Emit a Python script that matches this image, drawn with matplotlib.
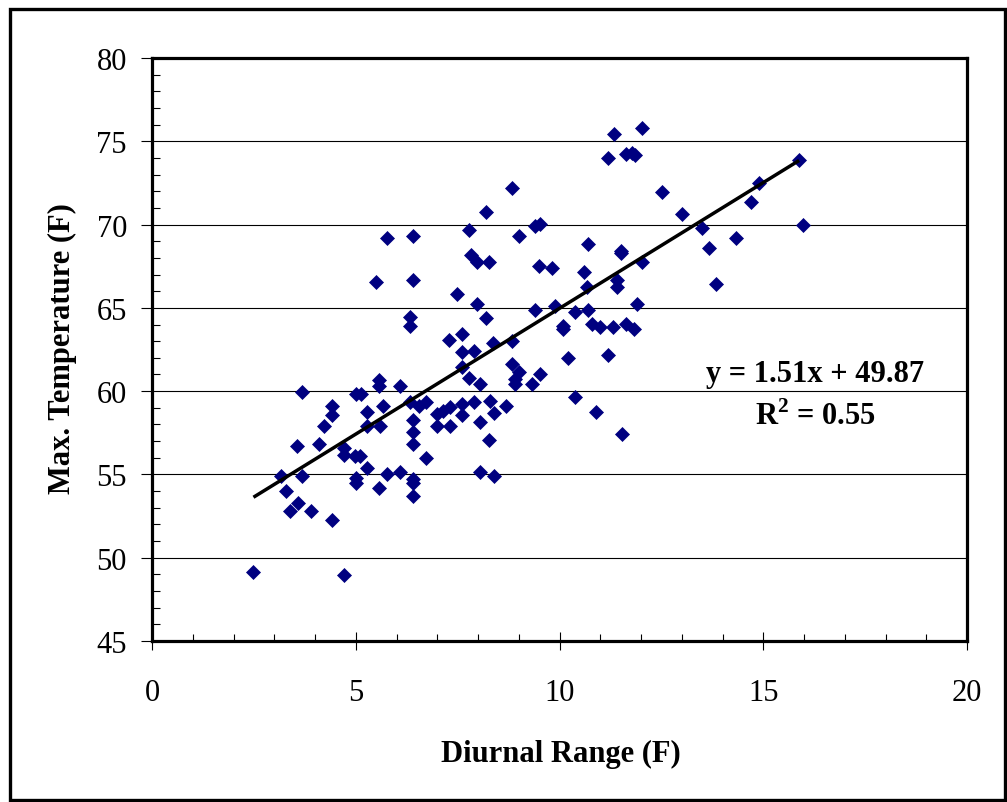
import matplotlib
matplotlib.use("Agg")
import matplotlib.pyplot as plt
from matplotlib.ticker import MultipleLocator
from matplotlib.patches import Rectangle
import numpy as np

plt.rcParams['font.family'] = ['Liberation Serif', 'DejaVu Serif']
plt.rcParams['mathtext.fontset'] = 'custom'
plt.rcParams['mathtext.rm'] = 'Liberation Serif'
plt.rcParams['mathtext.bf'] = 'Liberation Serif:bold'

# Diurnal range (F)
diurnal_range = [
    2.49, 3.16, 3.28, 3.39, 3.59, 3.57, 3.67, 3.67, 3.91, 4.11,
    4.22, 4.41, 4.41, 4.41, 4.70, 4.70, 4.70, 4.98, 5.10, 5.28,
    5.00, 5.00, 5.58, 5.77, 6.09, 6.41, 6.41, 6.41, 6.72, 6.41,
    6.41, 6.41, 6.33, 6.54, 6.72, 5.28, 5.28, 5.60, 5.68, 5.00,
    5.12, 5.58, 5.58, 6.09, 6.33, 6.33, 7.30, 7.60, 7.60, 7.89,
    7.60, 7.79, 8.05, 6.99, 7.15, 7.31, 7.60, 7.89, 7.60, 7.00,
    7.31, 8.05, 8.05, 8.83, 8.19, 6.41, 7.79, 9.01, 9.40, 9.52,
    10.69, 7.82, 7.98, 8.28, 9.50, 9.81, 10.59, 10.67, 6.41, 7.49,
    7.98, 9.40, 9.89, 10.38, 10.69, 10.79, 8.19, 10.09, 10.09, 8.38,
    8.83, 10.20, 8.83, 9.01, 8.91, 8.91, 9.32, 9.52, 10.38, 10.90,
    8.29, 8.39, 8.69, 8.28, 8.39, 11.34, 12.02, 11.18, 11.62, 11.78,
    11.85, 15.88, 12.51, 13.00, 14.90, 14.70, 15.98, 13.49, 13.68, 14.32,
    13.83, 11.51, 11.51, 12.02, 11.42, 11.42, 11.91, 10.99, 11.32, 11.62,
    11.83, 11.18, 11.53, 5.77, 5.49,
]
# Maximum temperature (F)
max_temperature = [
    49.13, 54.93, 54.03, 52.83, 53.27, 56.70, 59.93, 54.93, 52.83, 56.80,
    57.90, 59.13, 58.57, 52.25, 48.99, 56.57, 56.17, 56.13, 56.10, 55.37,
    54.79, 54.49, 54.17, 55.03, 55.13, 54.73, 54.49, 53.73, 55.97, 56.83,
    57.53, 58.29, 59.37, 59.09, 59.37, 58.77, 57.93, 57.89, 59.09, 59.83,
    59.83, 60.69, 60.29, 60.33, 63.90, 64.44, 63.07, 63.43, 62.33, 62.43,
    61.43, 60.77, 60.43, 58.63, 58.83, 59.03, 59.23, 59.33, 58.57, 57.89,
    57.89, 58.13, 55.13, 72.18, 70.74, 69.30, 69.68, 69.30, 69.94, 70.04,
    68.82, 68.18, 67.74, 67.74, 67.50, 67.40, 67.14, 66.24, 66.68, 65.82,
    65.23, 64.87, 65.13, 64.74, 64.87, 64.03, 64.38, 63.93, 63.73, 62.89,
    63.03, 61.97, 61.63, 61.13, 60.73, 60.43, 60.43, 61.03, 59.67, 58.73,
    59.43, 58.69, 59.09, 57.09, 54.93, 75.44, 75.78, 73.98, 74.24, 74.30,
    74.20, 73.90, 71.94, 70.62, 72.50, 71.34, 70.00, 69.78, 68.58, 69.18,
    66.44, 68.44, 68.30, 67.74, 66.69, 66.27, 65.23, 63.83, 63.83, 64.03,
    63.73, 62.19, 57.43, 69.18, 66.54,
]

slope = 1.51
intercept = 49.87
equation_label = "y = 1.51x + 49.87"
r2_label = r"R$^{\mathbf{2}}$ = 0.55"
x_label = "Diurnal Range (F)"
y_label = "Max. Temperature (F)"

fig = plt.figure(figsize=(10.07, 8.03), dpi=100)
ax = fig.add_axes([152/1007, 161/803, 815/1007, 583/803])

ax.set_xlim(0, 20)
ax.set_ylim(45, 80)
ax.xaxis.set_major_locator(MultipleLocator(5))
ax.xaxis.set_minor_locator(MultipleLocator(1))
ax.yaxis.set_major_locator(MultipleLocator(5))
ax.yaxis.set_minor_locator(MultipleLocator(1))

ax.grid(axis='y', which='major', color='black', linewidth=0.8)
ax.set_axisbelow(True)

ax.plot(diurnal_range, max_temperature, linestyle='none', marker='D',
        markersize=7.0, color='#000080', markeredgecolor='#000080',
        markeredgewidth=0.5, zorder=3)

xs = np.array([min(diurnal_range), max(diurnal_range) - 0.1])
ax.plot(xs, slope * xs + intercept, color='black', linewidth=2.5, zorder=4,
        solid_capstyle='butt')

for s in ax.spines.values():
    s.set_linewidth(2.3)
    s.set_color('black')

ax.tick_params(axis='x', which='major', direction='inout', length=13, width=0.8,
               pad=20, labelsize=22)
ax.tick_params(axis='x', which='minor', direction='in', length=5, width=0.8)
ax.tick_params(axis='y', which='major', direction='out', length=8, width=0.8,
               pad=10, labelsize=22)
ax.tick_params(axis='y', which='minor', direction='in', length=6, width=0.8)

ax.text(16.27, 60.63, equation_label, ha='center', va='baseline',
        fontsize=22, fontweight='bold')
ax.text(16.27, 58.03, r2_label, ha='center', va='baseline',
        fontsize=22, fontweight='bold')

fig.text(561/1007, 1 - 762/803, x_label, ha='center', va='baseline',
         fontsize=22, fontweight='bold')
fig.text(62/1007, 1 - 349/803, y_label, ha='center', va='center',
         rotation=90, fontsize=22, fontweight='bold')

fig.patches.append(Rectangle((9.5/1007, 2/803), (1005 - 9.5)/1007, (801 - 9.5)/803,
                             transform=fig.transFigure, fill=False,
                             edgecolor='black', linewidth=2.4))

fig.savefig("out.png", dpi=100)
